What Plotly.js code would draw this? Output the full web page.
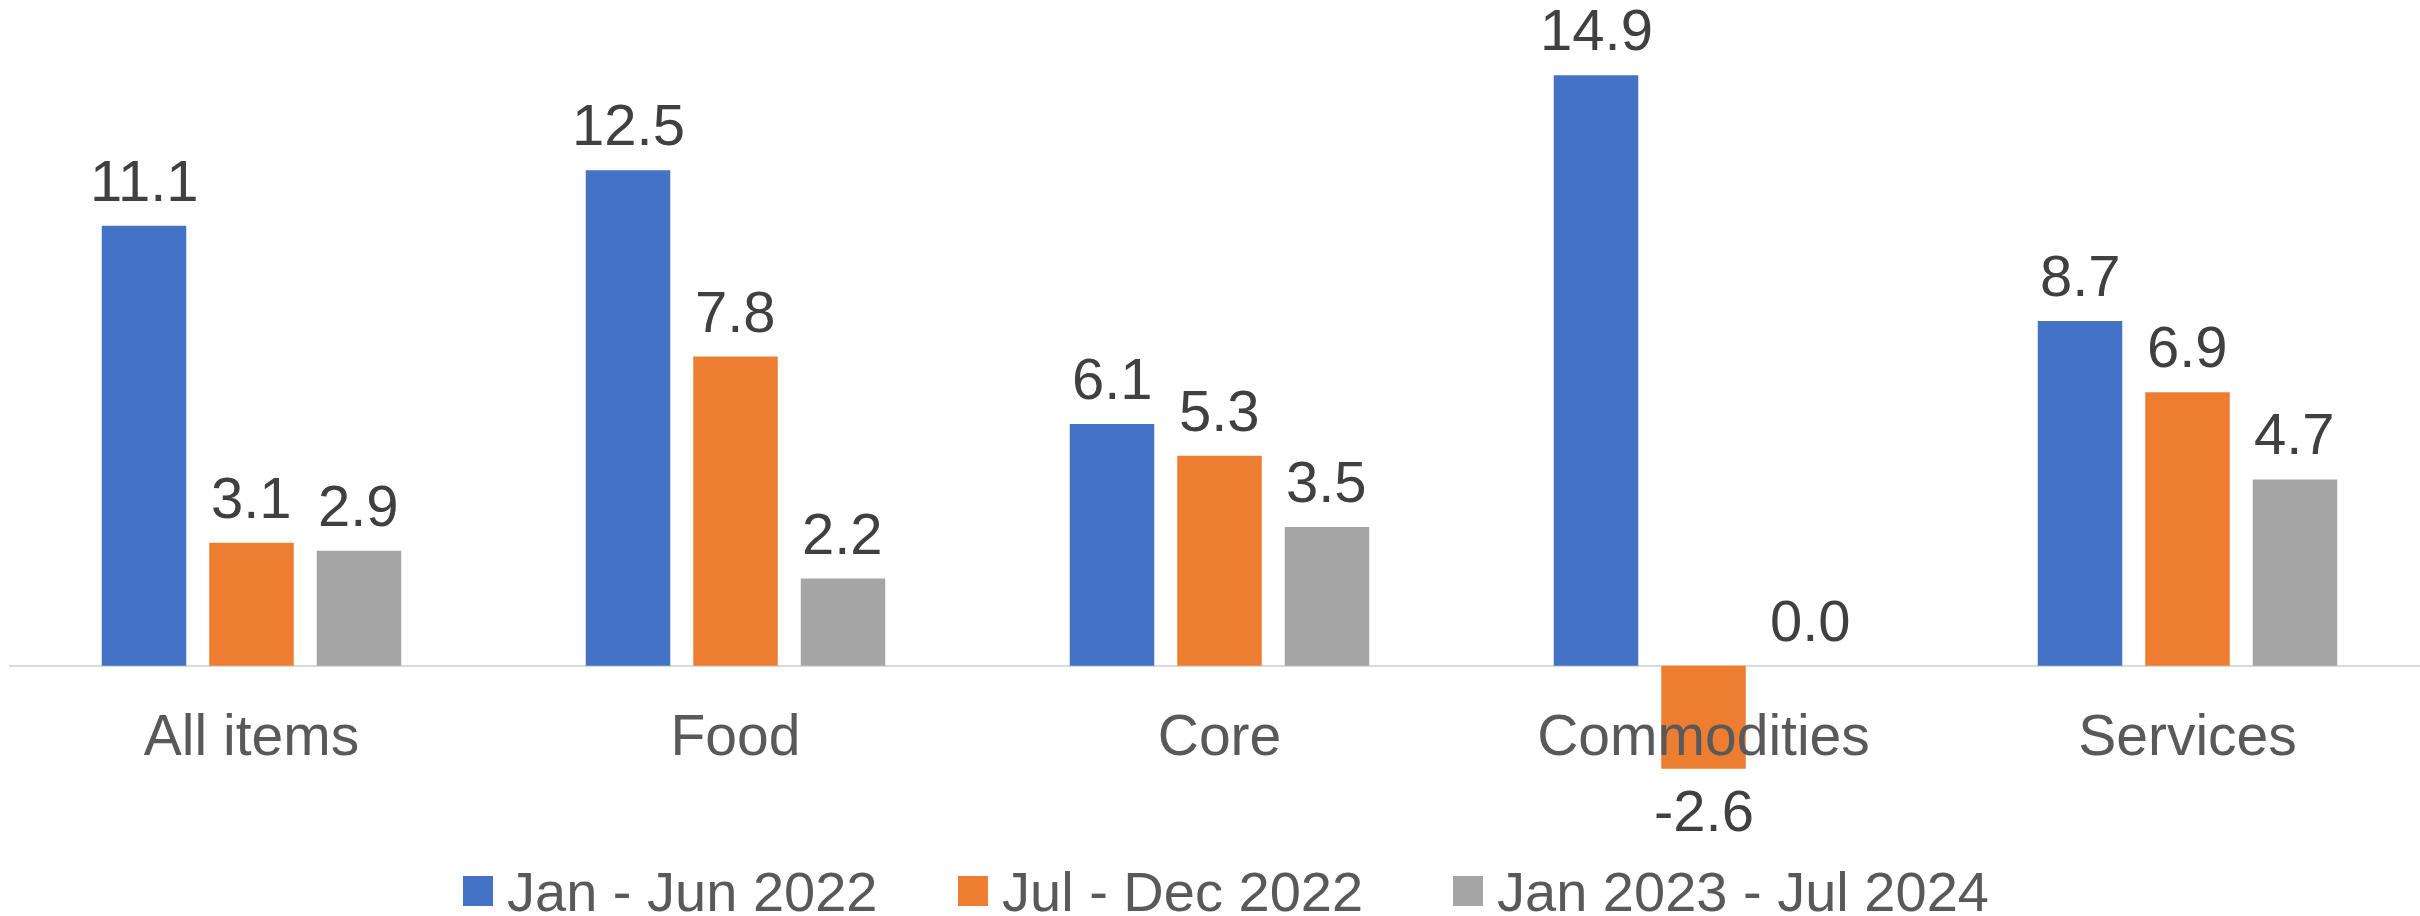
<!DOCTYPE html>
<html>
<head>
<meta charset="utf-8">
<script src="https://cdn.plot.ly/plotly-3.0.1.min.js"></script>
<style>html,body{margin:0;padding:0;background:#fff;}#chart{width:2420px;height:916px;}</style>
</head>
<body>
<div id="chart"></div>
<script>
// ---- data ----
const categories = ['All items', 'Food', 'Core', 'Commodities', 'Services'];
const seriesNames = ['Jan - Jun 2022', 'Jul - Dec 2022', 'Jan 2023 - Jul 2024'];
const janJun2022 = [11.1, 12.5, 6.1, 14.9, 8.7];
const julDec2022 = [3.1, 7.8, 5.3, -2.6, 6.9];
const jan2023Jul2024 = [2.9, 2.2, 3.5, 0.0, 4.7];

// ---- style ----
const colors = ['#4472C4', '#ED7D31', '#A5A5A5'];
const FONT = '"Liberation Sans", Arial, sans-serif';
const W = 2420, H = 916;
const ML = 9, MT = 0, MB = 116;
const plotW = W - ML, plotH = H - MT - MB;
const catPx = 484;                    // pixel width of one category
const firstCenterPx = 251.5;          // pixel x of first category centre
const xr0 = -(firstCenterPx - ML) / catPx;
const xr1 = xr0 + plotW / catPx;
const baselinePx = 665.7, pxPerUnit = 39.63;
const yTop = (baselinePx - MT) / pxPerUnit;
const yBot = -(MT + plotH - baselinePx) / pxPerUnit;
const BARGAP = 0.3337, BARGROUPGAP = 0.214;
const slotPx = catPx * (1 - BARGAP) / 3;

const allSeries = [janJun2022, julDec2022, jan2023Jul2024];

const traces = allSeries.map((vals, k) => ({
  type: 'bar',
  name: seriesNames[k],
  x: categories,
  y: vals,
  marker: {color: colors[k], line: {width: 0}},
  hoverinfo: 'skip',
  showlegend: false
}));

const annotations = [];
allSeries.forEach((vals, k) => {
  vals.forEach((v, i) => {
    const neg = v < 0;
    annotations.push({
      x: categories[i], y: v, xref: 'x', yref: 'y',
      text: v.toFixed(1),
      showarrow: false,
      xshift: (k - 1) * slotPx,
      yanchor: neg ? 'top' : 'bottom',
      yshift: neg ? -7 : 11,
      font: {family: FONT, size: 58, color: '#404040'}
    });
  });
});

// manual legend (large square keys)
const legendX = [463, 958, 1453];
const keyW = 30, keyH = 30, keyCy = 891, textGap = 12;
const pxToPaperX = px => (px - ML) / plotW;
const pxToPaperY = py => (MT + plotH - py) / plotH;
const shapes = [];
seriesNames.forEach((nm, k) => {
  shapes.push({
    type: 'rect', xref: 'paper', yref: 'paper',
    x0: pxToPaperX(legendX[k]), x1: pxToPaperX(legendX[k] + keyW),
    y0: pxToPaperY(keyCy - keyH / 2), y1: pxToPaperY(keyCy + keyH / 2),
    fillcolor: colors[k], line: {width: 0}
  });
  annotations.push({
    xref: 'paper', yref: 'paper',
    x: pxToPaperX(legendX[k] + keyW + textGap), y: pxToPaperY(keyCy),
    xanchor: 'left', yanchor: 'middle',
    text: nm, showarrow: false,
    font: {family: FONT, size: 56, color: '#595959'}
  });
});

const layout = {
  width: W, height: H,
  margin: {l: ML, r: 0, t: MT, b: MB, pad: 0},
  paper_bgcolor: '#ffffff', plot_bgcolor: '#ffffff',
  barmode: 'group', bargap: BARGAP, bargroupgap: BARGROUPGAP,
  showlegend: false,
  font: {family: FONT},
  xaxis: {
    type: 'category', range: [xr0, xr1],
    anchor: 'free', position: 0.12875,
    showline: false, showgrid: false, zeroline: false, ticks: '',
    tickfont: {family: FONT, size: 57, color: '#595959'}
  },
  yaxis: {
    range: [yBot, yTop],
    showgrid: false, showticklabels: false, ticks: '', showline: false,
    zeroline: true, zerolinecolor: '#D9D9D9', zerolinewidth: 2
  },
  annotations: annotations,
  shapes: shapes
};

Plotly.newPlot('chart', traces, layout, {staticPlot: true, displayModeBar: false});
</script>
</body>
</html>
